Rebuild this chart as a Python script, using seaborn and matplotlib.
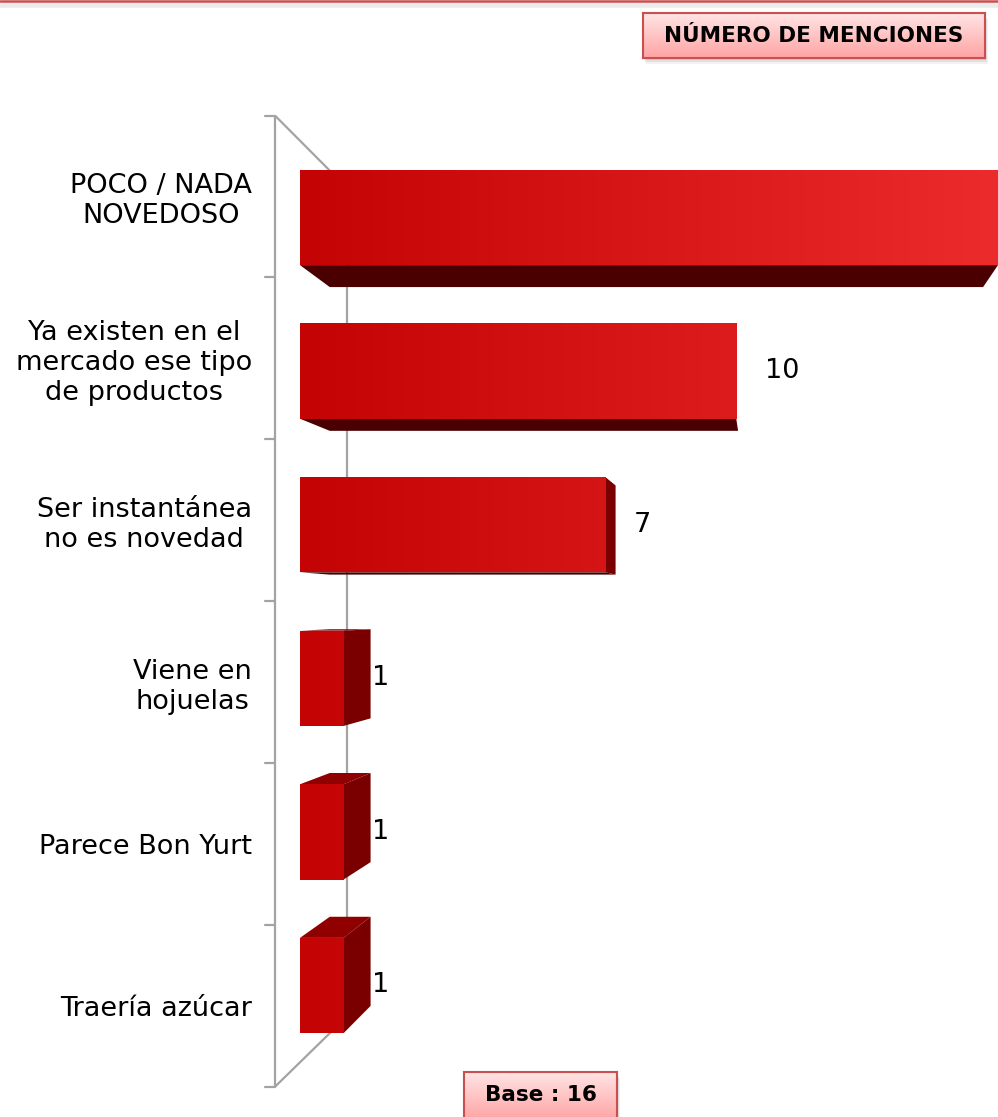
import numpy as np
import matplotlib
matplotlib.use("Agg")
import matplotlib.pyplot as plt
import seaborn as sns
from matplotlib.colors import LinearSegmentedColormap
from matplotlib.patches import Polygon, Rectangle
from matplotlib.lines import Line2D

# ---- data ----
categories = [
    "POCO / NADA\nNOVEDOSO",
    "Ya existen en el\nmercado ese tipo\nde productos",
    "Ser instantánea\nno es novedad",
    "Viene en\nhojuelas",
    "Parece Bon Yurt",
    "Traería azúcar",
]
menciones = [16, 10, 7, 1, 1, 1]
header_text = "NÚMERO DE MENCIONES"
base_text = "Base : 16"

# ---- canvas ----
W, H, DPI = 998, 1117, 100
sns.set_theme(style="white")
plt.rcParams["font.family"] = ["DejaVu Sans"]

fig = plt.figure(figsize=(W / DPI, H / DPI), dpi=DPI)
fig.patch.set_facecolor("white")

# plot area (pixels) and pixel scale of the value / category axes
AX_L, AX_R, AX_T, AX_B = 260, 998, 100, 1100
X0_PX, UNIT_PX = 300, 43.625
ROW0_PX, ROW_PX = 217.5, 153.6

ax = fig.add_axes([AX_L / W, 1 - AX_B / H, (AX_R - AX_L) / W, (AX_B - AX_T) / H])

BAR_W = 0.62
sns.barplot(x=menciones, y=categories, orient="h", width=BAR_W,
            color="#c60606", saturation=1, edgecolor="none", ax=ax, zorder=2)

xlim = ((AX_L - X0_PX) / UNIT_PX, (AX_R - X0_PX) / UNIT_PX)
ylim = ((AX_B - ROW0_PX) / ROW_PX, (AX_T - ROW0_PX) / ROW_PX)

# ---- perspective helpers (vanishing point in data space) ----
VX = (765 - X0_PX) / UNIT_PX
VY = (608 - ROW0_PX) / ROW_PX
DEPTH_BAR = 0.064
WALL_FRONT, WALL_BACK = -0.0538, 0.101


def proj(x, y, s):
    return VX + (x - VX) * (1 - s), VY + (y - VY) * (1 - s)


# ---- wall (behind the bars) ----
wall_col = "#a3a3a3"
lo, hi = -0.5, len(categories) - 0.5
fx0, fy0 = proj(0, lo, WALL_FRONT)
fx1, fy1 = proj(0, hi, WALL_FRONT)
bx0, by0 = proj(0, lo, WALL_BACK)
bx1, by1 = proj(0, hi, WALL_BACK)
for xs, ys in [((fx0, fx1), (fy0, fy1)),
               ((bx0, bx1), (by0, by1)),
               ((fx0, bx0), (fy0, by0)),
               ((fx1, bx1), (fy1, by1))]:
    ax.add_line(Line2D(xs, ys, color=wall_col, lw=1.6, zorder=0.5,
                       clip_on=False, solid_capstyle="butt"))
tick_len = 10 / UNIT_PX
for b in np.arange(lo, hi + 0.01, 1.0):
    tx, ty = proj(0, b, WALL_FRONT)
    ax.add_line(Line2D((tx - tick_len, tx), (ty, ty), color=wall_col, lw=1.6,
                       zorder=0.5, clip_on=False))

# ---- 3D bar faces ----
grad_cmap = LinearSegmentedColormap.from_list("front", ["#c40404", "#ec2c2c"])
grad = np.linspace(0, 1, 256).reshape(1, -1)
for p in ax.patches:
    x0, w = p.get_x(), p.get_width()
    y0, h = p.get_y(), p.get_height()
    x1, y1 = x0 + w, y0 + h
    if x1 < VX - 1:
        ax.add_patch(Polygon([(x1, y0), (x1, y1), proj(x1, y1, DEPTH_BAR),
                              proj(x1, y0, DEPTH_BAR)], closed=True,
                             facecolor="#7a0000", edgecolor="none", zorder=1.5))
    if y0 > VY:
        ax.add_patch(Polygon([(x0, y0), (x1, y0), proj(x1, y0, DEPTH_BAR),
                              proj(x0, y0, DEPTH_BAR)], closed=True,
                             facecolor="#900000", edgecolor="none", zorder=1.4))
    if y1 < VY:
        ax.add_patch(Polygon([(x0, y1), (x1, y1), proj(x1, y1, DEPTH_BAR),
                              proj(x0, y1, DEPTH_BAR)], closed=True,
                             facecolor="#4a0000", edgecolor="none", zorder=1.4))
    im = ax.imshow(grad, cmap=grad_cmap, aspect="auto", zorder=2.1,
                   extent=(0, xlim[1], ylim[0], ylim[1]), interpolation="bilinear")
    im.set_clip_path(p)

ax.set_xlim(*xlim)
ax.set_ylim(*ylim)

# ---- category labels on the front wall ----
label_pos = [proj(0, i, WALL_FRONT)[1] for i in range(len(categories))]
ax.set_yticks(label_pos)
ax.set_yticklabels(categories)
ax.tick_params(axis="y", length=0, pad=5.8, labelsize=19.5, labelcolor="black")
for lbl in ax.get_yticklabels():
    lbl.set_multialignment("center")
ax.set_xticks([])
ax.set_xlabel("")
ax.set_ylabel("")
for sp in ax.spines.values():
    sp.set_visible(False)
ax.set_facecolor("none")

# ---- value labels ----
for i, v in enumerate(menciones):
    lx = v + 0.65
    if lx + 0.6 < xlim[1]:
        ax.text(lx, i, f"{v}", ha="left", va="center", fontsize=19.5,
                color="black", zorder=3)

# ---- header / base boxes ----
box_cmap = LinearSegmentedColormap.from_list("box", ["#ffe4e4", "#ffa4a4"])


def tag_box(l, t, r, b):
    for k, a in [(6, 0.05), (4, 0.07), (2, 0.09)]:
        fig.patches.append(Rectangle(((l + k / 2) / W, 1 - (b + k) / H),
                                     (r - l) / W, (b - t) / H,
                                     transform=fig.transFigure,
                                     facecolor="black", alpha=a,
                                     edgecolor="none", zorder=-1))
    bx = fig.add_axes([l / W, 1 - b / H, (r - l) / W, (b - t) / H])
    bx.set_zorder(5)
    bx.imshow(np.linspace(0, 1, 64).reshape(-1, 1), cmap=box_cmap,
              aspect="auto", extent=(0, 1, 0, 1), origin="upper")
    bx.set_xticks([])
    bx.set_yticks([])
    for sp in bx.spines.values():
        sp.set_edgecolor("#c9504f")
        sp.set_linewidth(1.5)
        sp.set_visible(True)
    return bx


hb = tag_box(643, 13, 985, 58)
hb.text(0.5, 0.5, header_text, transform=hb.transAxes, ha="center",
        va="center", fontsize=15.5, fontweight="bold", color="black")

bb = tag_box(464, 1072, 617, 1120)
bb.text(0.5, 1 - (1095 - 1072) / (1120 - 1072), base_text,
        transform=bb.transAxes, ha="center", va="center", fontsize=15.5,
        fontweight="bold", color="black")

# ---- top rule ----
fig.add_artist(Line2D([0, 1], [1 - 5 / H, 1 - 5 / H], transform=fig.transFigure,
                      color="black", alpha=0.08, lw=4))
fig.add_artist(Line2D([0, 1], [1 - 1 / H, 1 - 1 / H], transform=fig.transFigure,
                      color="#c9504f", lw=1.8))

fig.savefig("out.png", dpi=DPI, facecolor="white")
